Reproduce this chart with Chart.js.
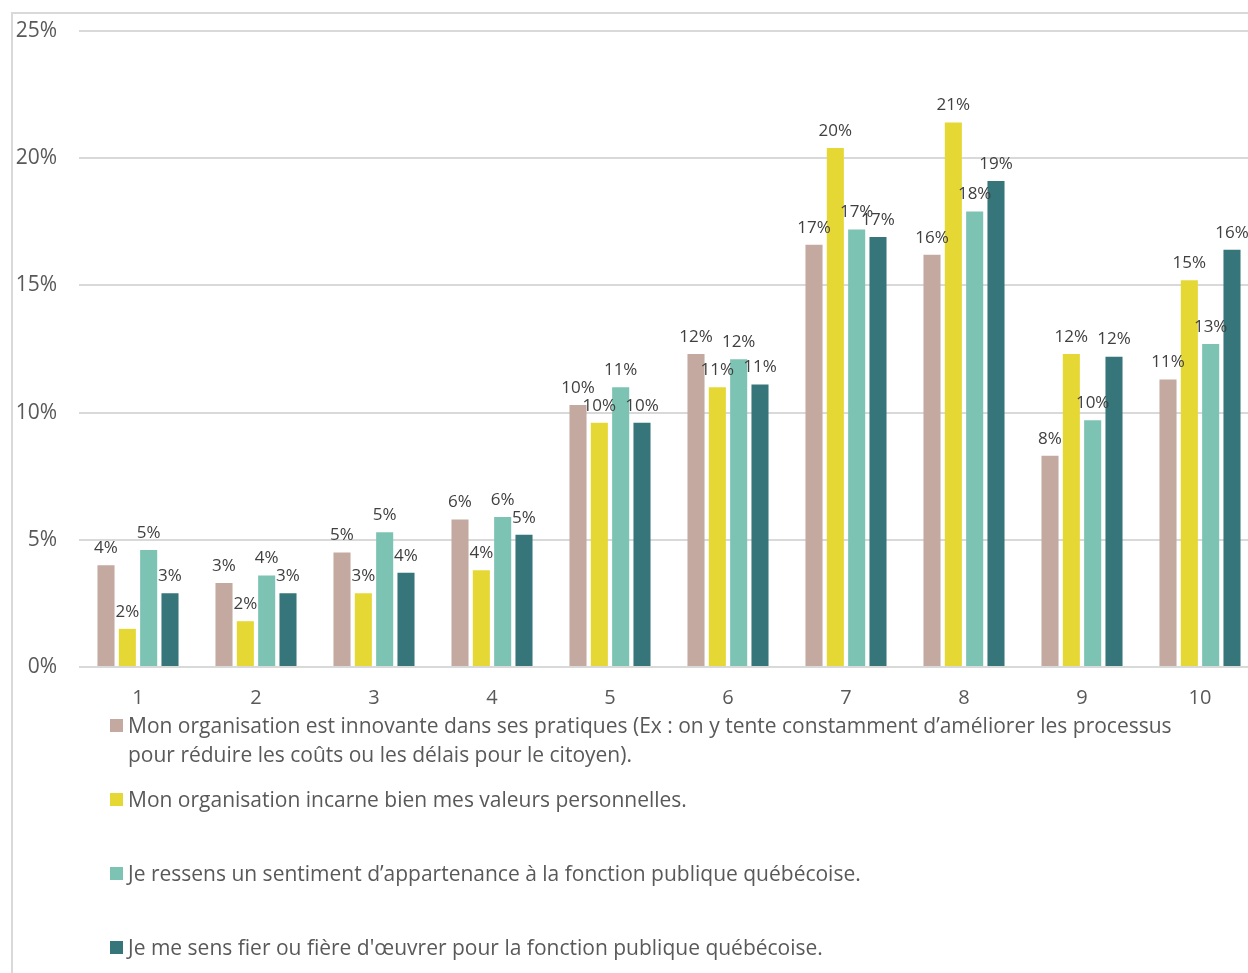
<!DOCTYPE html>
<html>
<head>
<meta charset="utf-8">
<script src="https://cdn.jsdelivr.net/npm/chart.js@4.4.1/dist/chart.umd.min.js"></script>
<style>
    html, body { margin: 0; padding: 0; background: #fff; overflow: hidden; }
    body { width: 1248px; height: 973px; position: relative; font-family: "Open Sans", sans-serif; }
    #frame { position: absolute; left: 11px; top: 12px; width: 1300px; height: 1000px;
             border-left: 2px solid #d9d9d9; border-top: 2px solid #d9d9d9; }
    #wrap { position: absolute; left: 0; top: 0; width: 1262px; height: 729px; }
    #legend { position: absolute; left: 110px; top: 711px; width: 1090px; color: #595959; }
    .item { display: flex; align-items: flex-start; height: 74px; font-size: 21px; line-height: 29px; }
    .box { width: 13px; height: 13px; margin-top: 8px; margin-right: 5px; flex: none; }
</style>
</head>
<body>
<div id="frame"></div>
<div id="wrap"><canvas id="chart"></canvas></div>
<div id="legend"></div>
<script>
// catégories (échelle 1 à 10)
const categories = ["1", "2", "3", "4", "5", "6", "7", "8", "9", "10"];

// valeurs en %
const innovante    = [4.0, 3.3, 4.5, 5.8, 10.3, 12.3, 16.6, 16.2, 8.3, 11.3];
const valeurs      = [1.5, 1.8, 2.9, 3.8, 9.6, 11.0, 20.4, 21.4, 12.3, 15.2];
const appartenance = [4.6, 3.6, 5.3, 5.9, 11.0, 12.1, 17.2, 17.9, 9.7, 12.7];
const fierte       = [2.9, 2.9, 3.7, 5.2, 9.6, 11.1, 16.9, 19.1, 12.2, 16.4];

const seriesLabels = [
    "Mon organisation est innovante dans ses pratiques (Ex : on y tente constamment d\u2019améliorer les processus pour réduire les coûts ou les délais pour le citoyen).",
    "Mon organisation incarne bien mes valeurs personnelles.",
    "Je ressens un sentiment d\u2019appartenance à la fonction publique québécoise.",
    "Je me sens fier ou fière d'œuvrer pour la fonction publique québécoise."
];
const colors = ["#c3a99f", "#e5d835", "#7dc3b3", "#36767b"];

const yMax = 25;
const yStep = 5;

// étiquettes de données au-dessus des barres
const barLabels = {
    id: "barLabels",
    afterDatasetsDraw(chart) {
        const ctx = chart.ctx;
        ctx.save();
        ctx.font = "17px 'Open Sans'";
        ctx.fillStyle = "#404040";
        ctx.textAlign = "center";
        ctx.textBaseline = "middle";
        chart.data.datasets.forEach((ds, i) => {
            chart.getDatasetMeta(i).data.forEach((bar, j) => {
                ctx.fillText(Math.round(ds.data[j]) + "%", bar.x, bar.y - 17);
            });
        });
        ctx.restore();
    }
};

const chart = new Chart(document.getElementById("chart"), {
    type: "bar",
    data: {
        labels: categories,
        datasets: [innovante, valeurs, appartenance, fierte].map((d, i) => ({
            label: seriesLabels[i],
            data: d,
            backgroundColor: colors[i],
            categoryPercentage: 0.723,
            barPercentage: 0.8
        }))
    },
    options: {
        responsive: true,
        maintainAspectRatio: false,
        animation: false,
        layout: { padding: { top: 31, right: 3, bottom: 0, left: 0 } },
        plugins: { legend: { display: false }, tooltip: { enabled: false } },
        scales: {
            x: {
                grid: { display: false, drawTicks: false },
                border: { display: false },
                ticks: { color: "#595959", font: { family: "Open Sans", size: 20 }, padding: 19 }
            },
            y: {
                min: 0,
                max: yMax,
                afterFit: (scale) => { scale.width = 79; scale.paddingTop = 0; scale.paddingBottom = 0; },
                grid: { color: "#d9d9d9", lineWidth: 2, drawTicks: false },
                border: { display: false },
                ticks: {
                    stepSize: yStep,
                    padding: 22,
                    color: "#595959",
                    font: { family: "Open Sans", size: 21 },
                    callback: (v) => v + "%"
                }
            }
        }
    },
    plugins: [barLabels]
});

// légende HTML (les libellés passent sur deux lignes)
const legend = document.getElementById("legend");
chart.data.datasets.forEach((ds) => {
    const item = document.createElement("div");
    item.className = "item";
    const box = document.createElement("span");
    box.className = "box";
    box.style.background = ds.backgroundColor;
    const txt = document.createElement("span");
    txt.textContent = ds.label;
    item.appendChild(box);
    item.appendChild(txt);
    legend.appendChild(item);
});
</script>
</body>
</html>
